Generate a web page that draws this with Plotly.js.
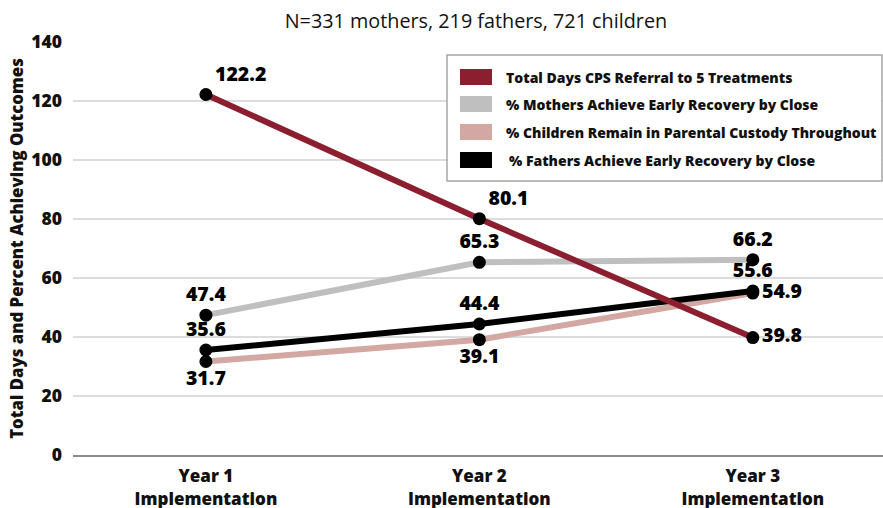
<!DOCTYPE html>
<html>
<head>
<meta charset="utf-8">
<script src="https://cdn.plot.ly/plotly-3.0.1.min.js"></script>
<style>html,body{margin:0;padding:0;background:#fff;}#chart{width:883px;height:508px;}</style>
</head>
<body>
<div id="chart"></div>
<script>
const categories = ["Year 1<br>Implementation", "Year 2<br>Implementation", "Year 3<br>Implementation"];
const seriesNames = [
  "Total Days CPS Referral to 5 Treatments",
  "% Mothers Achieve Early Recovery by Close",
  "% Children Remain in Parental Custody Throughout",
  "% Fathers Achieve Early Recovery by Close"
];
const totalDays = [122.2, 80.1, 39.8];
const mothers = [47.4, 65.3, 66.2];
const children = [31.7, 39.1, 54.9];
const fathers = [35.6, 44.4, 55.6];
const yTicks = [0, 20, 40, 60, 80, 100, 120, 140];

const colors = ["#8b1e2f", "#bfbfbf", "#d3a8a2", "#000000"];
const values = [totalDays, mothers, children, fathers];
const textPos = [
  ["top right", "top right", "middle right"],
  ["top center", "top center", "top center"],
  ["bottom center", "bottom center", "middle right"],
  ["top center", "top center", "top center"]
];
const FONT = "'Open Sans', 'Noto Sans', sans-serif";

const traces = values.map((v, i) => ({
  type: "scatter",
  mode: "lines+markers+text",
  x: categories,
  y: v,
  name: seriesNames[i],
  text: v.map(n => n.toFixed(1)),
  textposition: textPos[i],
  textfont: {family: FONT, size: 19.5, color: "#000", weight: 800},
  line: {color: colors[i], width: 6},
  marker: {color: "#000", size: 13},
  cliponaxis: false,
  showlegend: false
}));
const order = [1, 2, 3, 0];
const data = order.map(i => traces[i]);

// manual legend
const shapes = [{
  type: "rect", xref: "paper", yref: "paper",
  x0: (447 - 73) / 810, x1: (882 - 73) / 810,
  y0: (455 - 181) / 413, y1: (455 - 55) / 413,
  line: {color: "#a6a6a6", width: 1.5}, fillcolor: "#fff", layer: "above"
}];
const annotations = [];
const rowY = [77, 104, 132, 160];
seriesNames.forEach((nm, i) => {
  shapes.push({
    type: "rect", xref: "paper", yref: "paper",
    x0: (460 - 73) / 810, x1: (492 - 73) / 810,
    y0: (455 - rowY[i] - 8) / 413, y1: (455 - rowY[i] + 8) / 413,
    line: {width: 0}, fillcolor: colors[i], layer: "above"
  });
  annotations.push({
    xref: "paper", yref: "paper",
    x: ((i === 3 ? 507 : 504) - 73) / 810, y: (455 - rowY[i]) / 413,
    xanchor: "left", yanchor: "middle", showarrow: false,
    text: nm,
    font: {family: FONT, size: 14, color: "#111", weight: 800}
  });
});

const layout = {
  width: 883, height: 508,
  margin: {l: 73, r: 0, t: 42, b: 53},
  paper_bgcolor: "#fff", plot_bgcolor: "#fff",
  font: {family: FONT, color: "#000"},
  title: {text: "N=331 mothers, 219 fathers, 721 children", x: 0.539, xanchor: "center", y: 0.958, yanchor: "middle",
          font: {family: FONT, size: 19.8, color: "#111"}},
  xaxis: {
    type: "category", range: [-0.486, 2.476],
    showgrid: false, zeroline: false,
    showline: true, linecolor: "#8c8c8c", linewidth: 2,
    ticks: "", tickfont: {family: FONT, size: 17, color: "#111", weight: 800},
    ticklabelstandoff: 5
  },
  yaxis: {
    range: [0, 140], tickvals: yTicks, ticktext: yTicks.map(String),
    showgrid: true, gridcolor: "#dcdcdc", gridwidth: 1.5,
    zeroline: false, showline: false,
    ticks: "", tickfont: {family: FONT, size: 17.5, color: "#111", weight: 800},
    ticklabelstandoff: 10,
    title: {text: "Total Days and Percent Achieving Outcomes", standoff: 3,
            font: {family: FONT, size: 16.8, color: "#111", weight: 800}}
  },
  shapes: shapes,
  annotations: annotations,
  showlegend: false
};

Plotly.newPlot("chart", data, layout, {displayModeBar: false, staticPlot: true});
</script>
</body>
</html>
